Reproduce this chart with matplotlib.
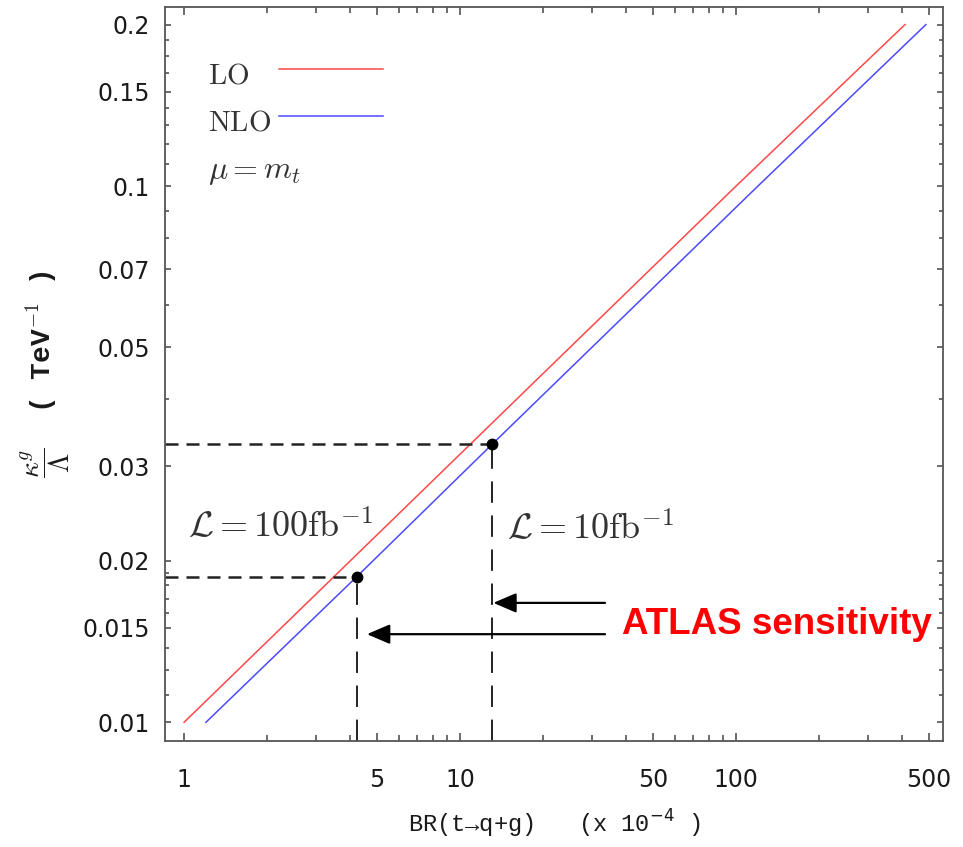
import matplotlib
matplotlib.use("Agg")
import matplotlib.pyplot as plt
from matplotlib.ticker import NullFormatter

# curves (straight lines on log-log axes)
br_lo = [1.0, 4.0, 16.0, 100.0, 409.0]
kappa_lo = [0.01, 0.02, 0.04, 0.1, 0.2]
br_nlo = [1.2, 4.23, 13.07, 120.0, 487.0]
kappa_nlo = [0.01, 0.0187, 0.033, 0.1, 0.2]

# ATLAS sensitivity points (100 fb^-1, 10 fb^-1)
sens_br = [4.23, 13.07]
sens_kappa = [0.0187, 0.0330]
sens_lumi = [r'$\mathcal{L} = 100\mathrm{fb}^{-1}$', r'$\mathcal{L} = 10\mathrm{fb}^{-1}$']

arrow_tail_br = 33.5
arrow_head_br = [13.2, 4.6]
arrow_kappa = [0.0167, 0.0146]

xticks = [1, 5, 10, 50, 100, 500]
xtick_labels = ['1', '5', '10', '50', '100', '500']
xticks_minor = [2, 3, 4, 6, 7, 8, 9, 20, 30, 40, 60, 70, 80, 90, 200, 300, 400]
yticks = [0.01, 0.015, 0.02, 0.03, 0.05, 0.07, 0.1, 0.15, 0.2]
ytick_labels = ['0.01', '0.015', '0.02', '0.03', '0.05', '0.07', '0.1', '0.15', '0.2']
yticks_minor = [0.01125, 0.0125, 0.01375, 0.016, 0.017, 0.018, 0.019, 0.04, 0.06,
                0.08, 0.09, 0.11, 0.12, 0.13, 0.14, 0.1625, 0.175, 0.1875]

red = '#ff4848'
blue = '#4a4aff'
ink = '#333333'
mono = ['Liberation Mono', 'DejaVu Sans Mono']

fig = plt.figure(figsize=(9.63, 8.47), dpi=100)
ax = fig.add_axes([0.1717, 0.1255, 0.8079, 0.8662])
ax.set_xscale('log')
ax.set_yscale('log')
xlim = (0.8556, 563.6)
ylim = (0.009241, 0.2157)

ax.plot(br_lo, kappa_lo, color=red, lw=1.1)
ax.plot(br_nlo, kappa_nlo, color=blue, lw=1.1)

for bx, ky in zip(sens_br, sens_kappa):
    ax.plot([xlim[0], bx], [ky, ky], color='#222222', lw=1.8, dashes=(5.2, 3.2))
    ax.plot([bx, bx], [ylim[0], ky], color='#222222', lw=1.4, dashes=(11, 6.5))
ax.plot(sens_br, sens_kappa, 'o', color='black', ms=7.5)

for hx, ky in zip(arrow_head_br, arrow_kappa):
    ax.annotate('', xy=(hx, ky), xytext=(arrow_tail_br, ky),
                arrowprops=dict(arrowstyle='-|>,head_length=0.7,head_width=0.3',
                                color='black', lw=1.6, shrinkA=0, shrinkB=0,
                                mutation_scale=20))

ax.text(1.034, 0.02207, sens_lumi[0], fontsize=26, color=ink, math_fontfamily='cm')
ax.text(14.8, 0.02188, sens_lumi[1], fontsize=26, color=ink, math_fontfamily='cm')
ax.text(38.6, 0.0146, 'ATLAS sensitivity', color='red', fontsize=26.5,
        fontweight='bold', family=['Liberation Sans', 'DejaVu Sans'], va='baseline')

# hand-made legend, labels on the left and sample lines on the right
ax.text(0.0549, 0.8964, r'$\mathrm{LO}$', transform=ax.transAxes, fontsize=21,
        color=ink, math_fontfamily='cm')
ax.text(0.0549, 0.8322, r'$\mathrm{NLO}$', transform=ax.transAxes, fontsize=21,
        color=ink, math_fontfamily='cm')
ax.text(0.0549, 0.767, r'$\mu = m_t$', transform=ax.transAxes, fontsize=23,
        color=ink, math_fontfamily='cm')
ax.plot([0.146, 0.280], [0.9162, 0.9162], transform=ax.transAxes, color=red, lw=1.1)
ax.plot([0.146, 0.280], [0.8518, 0.8518], transform=ax.transAxes, color=blue, lw=1.1)

ax.set_xlim(*xlim)
ax.set_ylim(*ylim)
ax.set_xticks(xticks, xtick_labels)
ax.set_xticks(xticks_minor, minor=True)
ax.set_yticks(yticks, ytick_labels)
ax.set_yticks(yticks_minor, minor=True)
ax.xaxis.set_minor_formatter(NullFormatter())
ax.yaxis.set_minor_formatter(NullFormatter())

ax.tick_params(which='both', direction='in', top=True, right=True, color='#444444',
               width=1.1, labelsize=17, labelcolor='#1a1a1a')
ax.tick_params(axis='x', which='major', length=6, pad=20)
ax.tick_params(axis='x', which='minor', length=4.3)
ax.tick_params(axis='y', which='major', length=4, pad=11)
ax.tick_params(axis='y', which='minor', length=3)
for sp in ax.spines.values():
    sp.set_color('#555555')
    sp.set_linewidth(1.3)

ax.set_xlabel(r'BR(t→q+g)   (x 10$^{-4}$ )', fontsize=17, family=mono, color='#1a1a1a')
ax.xaxis.set_label_coords(0.5, -0.0917)
ax.set_ylabel(r'$\dfrac{\kappa^g}{\Lambda}$  ( TeV$^{-1}$ )', fontsize=20, family=mono,
              fontweight='bold', color='#1a1a1a', math_fontfamily='cm')
ax.yaxis.set_label_coords(-0.12, 0.5)

fig.savefig('out.png', dpi=100)
